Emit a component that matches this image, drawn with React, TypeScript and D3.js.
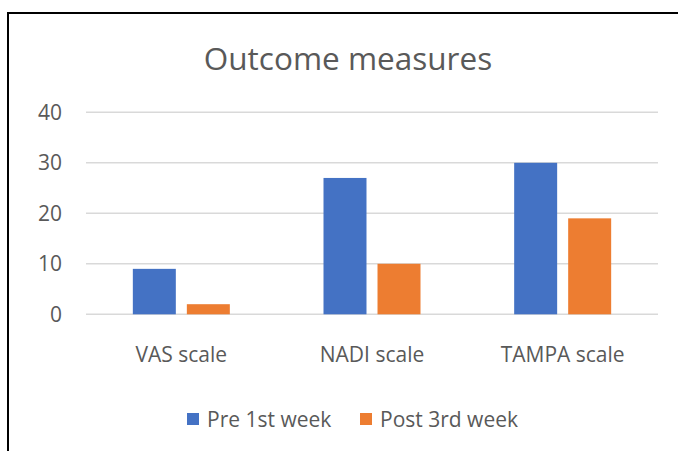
import React, { useEffect, useRef } from "react";
import * as d3 from "d3";

const categories = ["VAS scale", "NADI scale", "TAMPA scale"];
const seriesNames = ["Pre 1st week", "Post 3rd week"];
const preValues = [9, 27, 30];
const postValues = [2, 10, 19];
const yTicks = [0, 10, 20, 30, 40];
const colors = ["#4472C4", "#ED7D31"];

const W = 678;
const H = 451;

const App = () => {
  const ref = useRef<SVGSVGElement>(null);

  useEffect(() => {
    const svg = d3.select(ref.current);
    svg.selectAll("*").remove();

    const font = "'Open Sans', 'Noto Sans', sans-serif";
    const textColor = "#595959";

    // Chart frame (left + top edges visible)
    svg
      .append("path")
      .attr("d", `M8,${H} L8,13 L${W},13`)
      .attr("fill", "none")
      .attr("stroke", "#000")
      .attr("stroke-width", 2);

    // Set up the scales
    const x0 = d3.scaleBand().domain(categories).range([86, 658]).padding(0);
    const groupWidth = 97;
    const x1 = d3
      .scaleBand()
      .domain(seriesNames)
      .range([0, groupWidth])
      .paddingInner(0.204)
      .paddingOuter(0);
    const y = d3.scaleLinear().domain([0, 40]).range([314.3, 112.3]);

    // Title
    svg
      .append("text")
      .attr("x", 348)
      .attr("y", 70)
      .attr("text-anchor", "middle")
      .attr("font-family", font)
      .attr("font-size", 31.5)
      .attr("fill", textColor)
      .text("Outcome measures");

    // Gridlines
    svg
      .append("g")
      .selectAll("line")
      .data(yTicks)
      .enter()
      .append("line")
      .attr("x1", 86)
      .attr("x2", 658)
      .attr("y1", (d) => y(d))
      .attr("y2", (d) => y(d))
      .attr("stroke", "#D9D9D9")
      .attr("stroke-width", 1.5);

    // Y tick labels
    svg
      .append("g")
      .selectAll("text")
      .data(yTicks)
      .enter()
      .append("text")
      .attr("x", 62)
      .attr("y", (d) => y(d) + 7.5)
      .attr("text-anchor", "end")
      .attr("font-family", font)
      .attr("font-size", 21)
      .attr("fill", textColor)
      .text((d) => d);

    // Bars
    const rows = categories.map((c, i) => ({
      category: c,
      values: [preValues[i], postValues[i]],
    }));
    const groups = svg
      .append("g")
      .selectAll("g")
      .data(rows)
      .enter()
      .append("g")
      .attr(
        "transform",
        (d) =>
          `translate(${x0(d.category)! + (x0.bandwidth() - groupWidth) / 2},0)`
      );
    groups
      .selectAll("rect")
      .data((d) => d.values.map((v, j) => ({ key: seriesNames[j], v, j })))
      .enter()
      .append("rect")
      .attr("x", (d) => x1(d.key)!)
      .attr("width", x1.bandwidth())
      .attr("y", (d) => y(d.v))
      .attr("height", (d) => y(0) - y(d.v))
      .attr("fill", (d) => colors[d.j]);

    // Category labels
    svg
      .append("g")
      .selectAll("text")
      .data(categories)
      .enter()
      .append("text")
      .attr("x", (d) => x0(d)! + x0.bandwidth() / 2)
      .attr("y", 362)
      .attr("text-anchor", "middle")
      .attr("font-family", font)
      .attr("font-size", 21)
      .attr("fill", textColor)
      .text((d) => d);

    // Legend
    const legendX = [187, 360];
    const legend = svg
      .append("g")
      .selectAll("g")
      .data(seriesNames)
      .enter()
      .append("g")
      .attr("transform", (d, i) => `translate(${legendX[i]},0)`);
    legend
      .append("rect")
      .attr("x", 0)
      .attr("y", 413)
      .attr("width", 12)
      .attr("height", 12)
      .attr("fill", (d, i) => colors[i]);
    legend
      .append("text")
      .attr("x", 20)
      .attr("y", 427)
      .attr("font-family", font)
      .attr("font-size", 21)
      .attr("fill", textColor)
      .text((d) => d);
  }, []);

  return (
    <svg
      ref={ref}
      width={W}
      height={H}
      style={{ position: "absolute", left: 0, top: 0, background: "#fff" }}
    />
  );
};

export default App;
